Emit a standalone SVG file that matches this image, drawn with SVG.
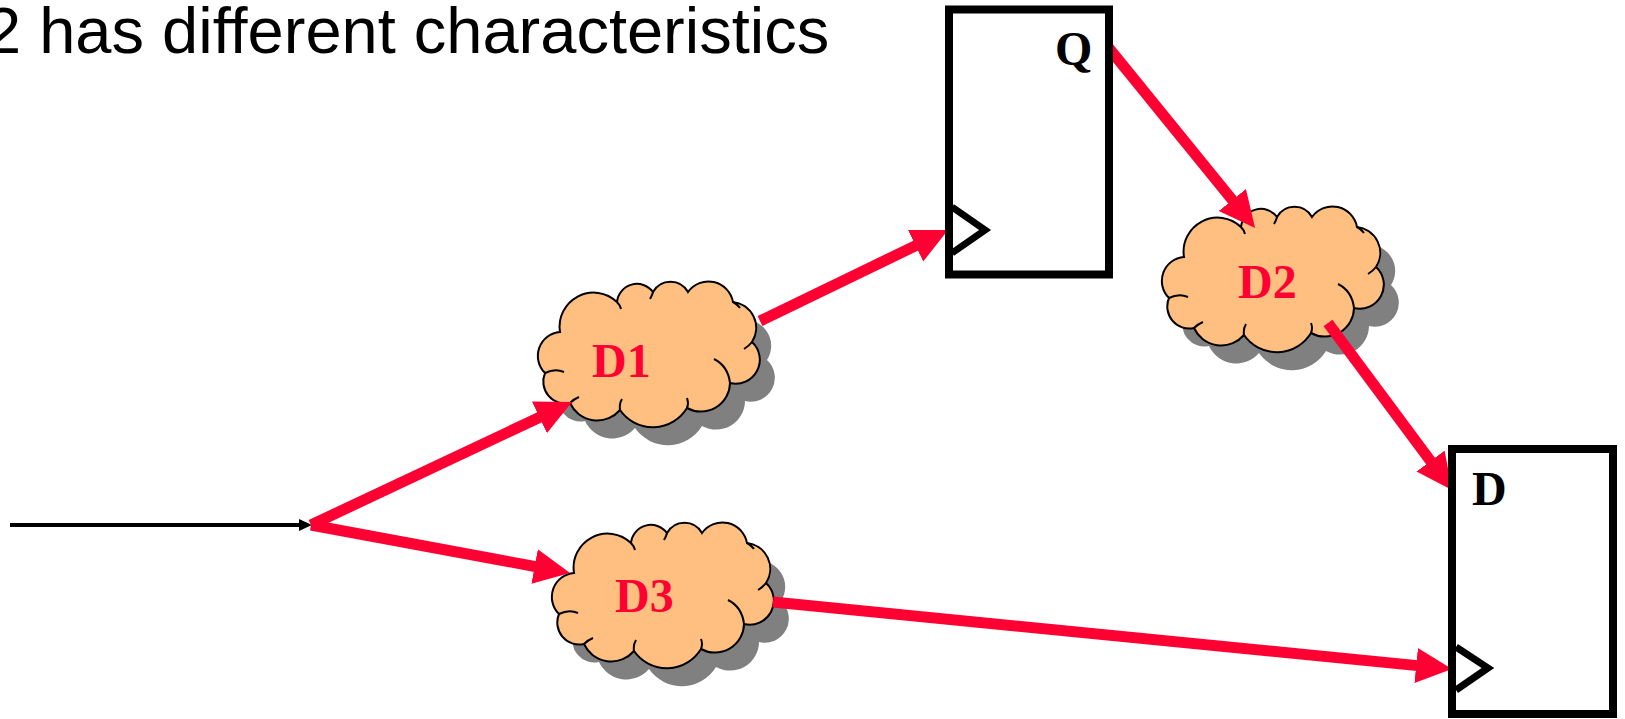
<svg xmlns="http://www.w3.org/2000/svg" width="1625" height="719" viewBox="0 0 1625 719">
  <style>
    .cloud { fill: #ffbf80; stroke: #000; stroke-width: 2; }
    .shadow { fill: #808080; }
    .hook { fill: none; stroke: #000; stroke-width: 2; }
    .wire { stroke: #ff0033; stroke-width: 11; fill: none; }
    .reg { fill: #fff; stroke: #000; stroke-width: 8; }
    .clk { fill: none; stroke: #000; stroke-width: 7; }
    .dlabel { font-family: "Liberation Serif", "Times New Roman", serif; font-weight: bold; font-size: 48px; fill: #ff0033; }
    .pin { font-family: "Liberation Serif", "Times New Roman", serif; font-weight: bold; font-size: 48px; fill: #000; }
    .title { font-family: "Liberation Sans", Arial, sans-serif; font-size: 65px; fill: #000; }
  </style>
  <defs>
    <marker id="redHead" markerUnits="userSpaceOnUse" markerWidth="40" markerHeight="40" refX="14" refY="17.5" orient="auto">
      <path d="M0,0 L36,17.5 L0,35 z" fill="#ff0033"/>
    </marker>
    <marker id="blackHead" markerUnits="userSpaceOnUse" markerWidth="16" markerHeight="14" refX="4" refY="6" orient="auto">
      <path d="M0,0 L13,6 L0,12 z" fill="#000"/>
    </marker>
    <path id="cloudShape" d="M23,50 A34,34 0 0 1 80,20 A20,20 0 0 1 116,10 A20,20 0 0 1 151,10 A25,25 0 0 1 196,20 A26,26 0 0 1 215,60 A24,24 0 0 1 193,101 A29,29 0 0 1 150,126 A40,40 0 0 1 83,128 A30,30 0 0 1 33,121 A22,22 0 0 1 8,91 A24,24 0 0 1 23,50 Z"/>
    <g id="cloudNode">
      <use href="#cloudShape" class="shadow" transform="translate(15,18)"/>
      <use href="#cloudShape" class="cloud"/>
      <path class="hook" d="M8,91 Q18,86 27,90 M193,101 Q191,84 177,77 M83,128 Q82,122 85,117 M150,126 Q152,121 150,116 M80,20 Q83,23 84,27 M116,10 Q115,14 113,17 M196,20 Q200,22 203,26 M215,60 Q212,64 207,67 M33,121 Q37,117 42,115"/>
    </g>
  </defs>

  <text class="title" x="-15" y="53">2 has different characteristics</text>

  <!-- delay clouds -->
  <g id="d1">
    <use href="#cloudNode" transform="translate(537,282)"/>
    <text class="dlabel" x="592" y="377">D1</text>
  </g>
  <g id="d2">
    <use href="#cloudNode" transform="translate(1161,207)"/>
    <text class="dlabel" x="1238" y="298">D2</text>
  </g>
  <g id="d3">
    <use href="#cloudNode" transform="translate(551,523)"/>
    <text class="dlabel" x="615" y="612">D3</text>
  </g>

  <!-- wires -->
  <g id="connectors">
    <line x1="10" y1="525" x2="303" y2="525" stroke="#000" stroke-width="4" marker-end="url(#blackHead)"/>
    <line class="wire" x1="311" y1="525" x2="552.1" y2="411.4" marker-end="url(#redHead)"/>
    <line class="wire" x1="760" y1="321" x2="928.2" y2="239.6" marker-end="url(#redHead)"/>
    <line class="wire" x1="1108" y1="47" x2="1241.2" y2="210.9" marker-end="url(#redHead)"/>
    <line class="wire" x1="1328" y1="323" x2="1438.9" y2="472.3" marker-end="url(#redHead)"/>
    <line class="wire" x1="311" y1="525" x2="548.4" y2="569" marker-end="url(#redHead)"/>
    <line class="wire" x1="773" y1="602" x2="1430.1" y2="666.9" marker-end="url(#redHead)"/>
  </g>

  <!-- launch register -->
  <g id="regQ">
    <rect class="reg" x="949" y="9.5" width="160" height="265" fill="none"/>
    <polyline class="clk" points="952,207 985,230 952,253"/>
    <text class="pin" x="1055" y="65">Q</text>
  </g>

  <!-- capture register -->
  <g id="regD">
    <rect class="reg" x="1452" y="449" width="161" height="265"/>
    <polyline class="clk" points="1456,647 1488,668 1456,690"/>
    <text class="pin" x="1472" y="505">D</text>
  </g>
</svg>
